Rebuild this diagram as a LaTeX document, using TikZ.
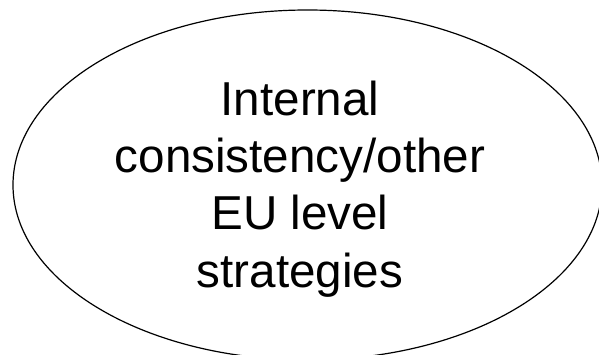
\documentclass[tikz,border=0pt]{standalone}
\usepackage{fontspec}
\setmainfont{Liberation Sans}
\usetikzlibrary{positioning, shapes.geometric}
\tikzset{
  oval/.style={
    ellipse, draw, line width=1.2pt,
    minimum width=589pt,
    minimum height=350pt,
    inner sep=0pt,
  },
  caption/.style={
    align=center, inner sep=0pt,
    font=\fontsize{47.6}{57.3}\selectfont,
  },
}
\begin{document}
\begin{tikzpicture}[x=1pt, y=1pt]
\useasboundingbox (0,0) rectangle (599,354);
\clip (0,0) rectangle (599,354);
\node[oval] (strat) at (307.5, 169) {};
\node[caption] (strat-text) at (300, 165)
  {Internal\\consistency/other\\EU level\\strategies};
\end{tikzpicture}
\end{document}
